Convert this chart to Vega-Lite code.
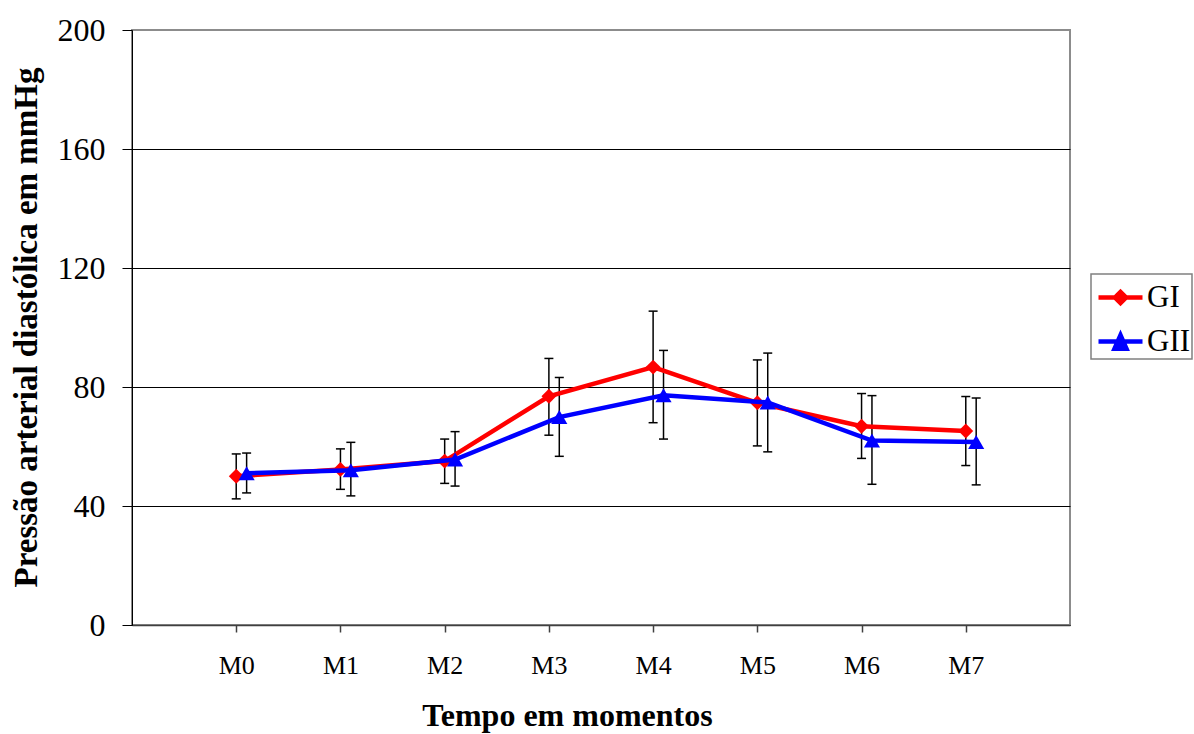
{
  "$schema": "https://vega.github.io/schema/vega-lite/v6.json",
  "autosize": "none",
  "width": 938,
  "height": 595,
  "padding": {"left": 132, "top": 30, "right": 124, "bottom": 109},
  "background": "white",
  "config": {
    "view": {"stroke": "#8c8c8c", "strokeWidth": 2},
    "font": "Liberation Serif",
    "axisY": {
      "titleFont": "Liberation Serif",
      "titleFontSize": 33,
      "titleFontWeight": "bold",
      "titleColor": "black",
      "titleAngle": -90,
      "titleX": -96,
      "titleY": 297,
      "titleAlign": "center",
      "titleBaseline": "alphabetic",
      "labelFont": "Liberation Serif",
      "labelFontSize": 32,
      "labelColor": "black",
      "labelPadding": 17,
      "tickSize": 10,
      "tickColor": "black",
      "domainColor": "black",
      "grid": true,
      "gridColor": "black",
      "gridWidth": 1,
      "gridOpacity": 1
    }
  },
  "data": {
    "values": [
      {"momento": "M0", "grupo": "GI", "media": 50.0, "lo": 42.4, "hi": 57.5},
      {"momento": "M1", "grupo": "GI", "media": 52.3, "lo": 45.6, "hi": 59.2},
      {"momento": "M2", "grupo": "GI", "media": 55.1, "lo": 47.6, "hi": 62.5},
      {"momento": "M3", "grupo": "GI", "media": 76.9, "lo": 63.8, "hi": 89.6},
      {"momento": "M4", "grupo": "GI", "media": 86.7, "lo": 68.0, "hi": 105.5},
      {"momento": "M5", "grupo": "GI", "media": 74.7, "lo": 60.2, "hi": 89.1},
      {"momento": "M6", "grupo": "GI", "media": 66.8, "lo": 56.0, "hi": 77.8},
      {"momento": "M7", "grupo": "GI", "media": 65.2, "lo": 53.6, "hi": 76.8},
      {"momento": "M0", "grupo": "GII", "media": 51.0, "lo": 44.4, "hi": 57.8},
      {"momento": "M1", "grupo": "GII", "media": 52.0, "lo": 43.4, "hi": 61.4},
      {"momento": "M2", "grupo": "GII", "media": 55.6, "lo": 46.7, "hi": 65.0},
      {"momento": "M3", "grupo": "GII", "media": 69.9, "lo": 56.7, "hi": 83.2},
      {"momento": "M4", "grupo": "GII", "media": 77.2, "lo": 62.5, "hi": 92.3},
      {"momento": "M5", "grupo": "GII", "media": 74.8, "lo": 58.2, "hi": 91.4},
      {"momento": "M6", "grupo": "GII", "media": 62.0, "lo": 47.3, "hi": 77.1},
      {"momento": "M7", "grupo": "GII", "media": 61.5, "lo": 47.1, "hi": 76.3}
    ]
  },
  "encoding": {
    "x": {
      "field": "momento",
      "type": "ordinal",
      "scale": {"type": "point", "padding": 1, "domain": ["M0", "M1", "M2", "M3", "M4", "M5", "M6", "M7"]},
      "axis": {
        "title": "Tempo em momentos",
        "titleFont": "Liberation Serif",
        "titleFontSize": 32,
        "titleFontWeight": "bold",
        "titleColor": "black",
        "titleAnchor": "middle",
        "titleX": 435,
        "titleY": 100,
        "titleBaseline": "alphabetic",
        "labelFont": "Liberation Serif",
        "labelFontSize": 26,
        "labelColor": "black",
        "labelAngle": 0,
        "labelPadding": 20,
        "tickSize": 7,
        "tickColor": "#404040",
        "tickWidth": 1.5,
        "domainColor": "#404040",
        "domainWidth": 1.5,
        "grid": false
      }
    }
  },
  "layer": [
    {
      "transform": [{"filter": "datum.grupo === 'GI'"}],
      "mark": {"type": "rule", "color": "black", "strokeWidth": 1.5},
      "encoding": {
        "y": {"field": "lo", "type": "quantitative", "title": "Pressão arterial diastólica em mmHg", "scale": {"domain": [0, 200], "nice": false, "zero": true},
          "axis": {"values": [0, 40, 80, 120, 160, 200], "gridColor": {"condition": {"test": "datum.value === 200", "value": "#8c8c8c"}, "value": "black"}}},
        "y2": {"field": "hi"}
      }
    },
    {
      "transform": [{"filter": "datum.grupo === 'GII'"}],
      "mark": {"type": "rule", "color": "black", "strokeWidth": 1.5, "xOffset": 10.4},
      "encoding": {"y": {"field": "lo", "type": "quantitative", "title": "Pressão arterial diastólica em mmHg",
          "axis": {"values": [0, 40, 80, 120, 160, 200], "gridColor": {"condition": {"test": "datum.value === 200", "value": "#8c8c8c"}, "value": "black"}}}, "y2": {"field": "hi"}}
    },
    {
      "transform": [{"filter": "datum.grupo === 'GI'"}],
      "mark": {"type": "point", "shape": "stroke", "size": 81, "color": "black", "strokeWidth": 1.5, "opacity": 1},
      "encoding": {"y": {"field": "lo", "type": "quantitative", "title": "Pressão arterial diastólica em mmHg",
          "axis": {"values": [0, 40, 80, 120, 160, 200], "gridColor": {"condition": {"test": "datum.value === 200", "value": "#8c8c8c"}, "value": "black"}}}}
    },
    {
      "transform": [{"filter": "datum.grupo === 'GI'"}],
      "mark": {"type": "point", "shape": "stroke", "size": 81, "color": "black", "strokeWidth": 1.5, "opacity": 1},
      "encoding": {"y": {"field": "hi", "type": "quantitative", "title": "Pressão arterial diastólica em mmHg",
          "axis": {"values": [0, 40, 80, 120, 160, 200], "gridColor": {"condition": {"test": "datum.value === 200", "value": "#8c8c8c"}, "value": "black"}}}}
    },
    {
      "transform": [{"filter": "datum.grupo === 'GII'"}],
      "mark": {"type": "point", "shape": "stroke", "size": 81, "color": "black", "strokeWidth": 1.5, "opacity": 1, "xOffset": 10.4},
      "encoding": {"y": {"field": "lo", "type": "quantitative", "title": "Pressão arterial diastólica em mmHg",
          "axis": {"values": [0, 40, 80, 120, 160, 200], "gridColor": {"condition": {"test": "datum.value === 200", "value": "#8c8c8c"}, "value": "black"}}}}
    },
    {
      "transform": [{"filter": "datum.grupo === 'GII'"}],
      "mark": {"type": "point", "shape": "stroke", "size": 81, "color": "black", "strokeWidth": 1.5, "opacity": 1, "xOffset": 10.4},
      "encoding": {"y": {"field": "hi", "type": "quantitative", "title": "Pressão arterial diastólica em mmHg",
          "axis": {"values": [0, 40, 80, 120, 160, 200], "gridColor": {"condition": {"test": "datum.value === 200", "value": "#8c8c8c"}, "value": "black"}}}}
    },
    {
      "transform": [{"filter": "datum.grupo === 'GI'"}],
      "mark": {"type": "line", "color": "#ff0000", "strokeWidth": 4.5},
      "encoding": {"y": {"field": "media", "type": "quantitative", "title": "Pressão arterial diastólica em mmHg",
          "axis": {"values": [0, 40, 80, 120, 160, 200], "gridColor": {"condition": {"test": "datum.value === 200", "value": "#8c8c8c"}, "value": "black"}}}}
    },
    {
      "transform": [{"filter": "datum.grupo === 'GI'"}],
      "mark": {"type": "point", "shape": "diamond", "filled": true, "size": 220, "opacity": 1, "color": "#ff0000"},
      "encoding": {"y": {"field": "media", "type": "quantitative", "title": "Pressão arterial diastólica em mmHg",
          "axis": {"values": [0, 40, 80, 120, 160, 200], "gridColor": {"condition": {"test": "datum.value === 200", "value": "#8c8c8c"}, "value": "black"}}}}
    },
    {
      "transform": [{"filter": "datum.grupo === 'GII'"}],
      "mark": {"type": "line", "color": "#0000ff", "strokeWidth": 4.5, "xOffset": 10.4},
      "encoding": {"y": {"field": "media", "type": "quantitative", "title": "Pressão arterial diastólica em mmHg",
          "axis": {"values": [0, 40, 80, 120, 160, 200], "gridColor": {"condition": {"test": "datum.value === 200", "value": "#8c8c8c"}, "value": "black"}}}}
    },
    {
      "transform": [{"filter": "datum.grupo === 'GII'"}],
      "mark": {"type": "point", "shape": "triangle-up", "filled": true, "size": 260, "opacity": 1, "color": "#0000ff", "xOffset": 10.4},
      "encoding": {"y": {"field": "media", "type": "quantitative", "title": "Pressão arterial diastólica em mmHg",
          "axis": {"values": [0, 40, 80, 120, 160, 200], "gridColor": {"condition": {"test": "datum.value === 200", "value": "#8c8c8c"}, "value": "black"}}}}
    },
    {
      "mark": {"type": "point", "filled": true, "opacity": 0},
      "encoding": {
        "y": {"field": "media", "type": "quantitative", "title": "Pressão arterial diastólica em mmHg",
          "axis": {"values": [0, 40, 80, 120, 160, 200], "gridColor": {"condition": {"test": "datum.value === 200", "value": "#8c8c8c"}, "value": "black"}}},
        "color": {
          "field": "grupo",
          "type": "nominal",
          "scale": {"domain": ["GI", "GII"], "range": ["#ff0000", "#0000ff"]},
          "legend": {
            "title": null,
            "orient": "none",
            "legendX": 959,
            "legendY": 244,
            "strokeColor": "#808080",
            "padding": 1,
            "symbolOffset": 6,
            "symbolSize": 1600,
            "symbolStrokeWidth": 4.5,
            "labelOffset": 4,
            "labelFont": "Liberation Serif",
            "labelFontSize": 31,
            "labelColor": "black",
            "rowPadding": 6,
            "encode": {
              "legend": {"update": {"strokeWidth": {"value": 1.5}}},
              "symbols": {
                "update": {
                  "fill": {"signal": "datum.value === 'GI' ? '#ff0000' : '#0000ff'"},
                  "stroke": {"signal": "datum.value === 'GI' ? '#ff0000' : '#0000ff'"},
                  "strokeWidth": {"value": 4.5},
                  "opacity": {"value": 1},
                  "fillOpacity": {"value": 1},
                  "strokeOpacity": {"value": 1}
                }
              }
            }
          }
        },
        "shape": {
          "field": "grupo",
          "type": "nominal",
          "scale": {"domain": ["GI", "GII"], "range": ["M-1.1,0H1.1M-0.28,0L0,-0.28L0.28,0L0,0.28Z", "M-1.1,0H1.1M-0.3,0.36L0,-0.32L0.3,0.36Z"]}
        }
      }
    }
  ]
}
